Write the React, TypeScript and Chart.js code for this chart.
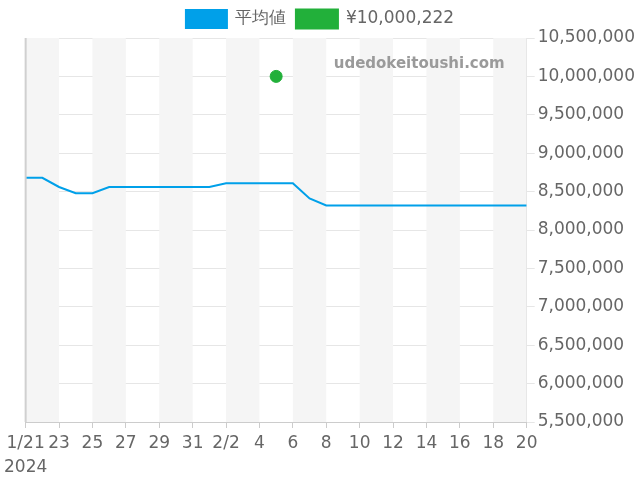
import React, { useEffect, useRef } from "react";
import { Chart, registerables } from "chart.js";

Chart.register(...registerables);

const dayLabels = ["1/21", "23", "25", "27", "29", "31", "2/2", "4", "6", "8", "10", "12", "14", "16", "18", "20"];
const yearLabel = "2024";
const averageValues = [
  8680000, 8680000, 8560000, 8480000, 8480000, 8560000, 8560000, 8560000, 8560000, 8560000, 8560000,
  8560000, 8610000, 8610000, 8610000, 8610000, 8610000, 8410000, 8320000, 8320000, 8320000, 8320000,
  8320000, 8320000, 8320000, 8320000, 8320000, 8320000, 8320000, 8320000, 8320000,
];
const saleDayIndex = 15;
const saleValue = 10000222;
const seriesNames = ["平均値", "¥10,000,222"];
const watermark = "udedokeitoushi.com";

const bandPlugin = {
  id: "bands",
  beforeDatasetsDraw(chart: any) {
    const { ctx, chartArea, scales } = chart;
    const x = scales.x;
    ctx.save();
    ctx.fillStyle = "#f5f5f5";
    for (let d = 0; d < 30; d += 4) {
      const x0 = x.getPixelForValue(d);
      const x1 = x.getPixelForValue(Math.min(d + 2, 30));
      ctx.fillRect(x0, chartArea.top, x1 - x0, chartArea.bottom - chartArea.top);
    }
    ctx.restore();
  },
  afterDatasetsDraw(chart: any) {
    const { ctx, chartArea } = chart;
    ctx.save();
    ctx.strokeStyle = "#d0d0d0";
    ctx.lineWidth = 2;
    ctx.beginPath();
    ctx.moveTo(chartArea.left, chartArea.top);
    ctx.lineTo(chartArea.left, chartArea.bottom);
    ctx.stroke();
    ctx.font = "bold 15px 'DejaVu Sans'";
    ctx.fillStyle = "#9a9a9a";
    ctx.textAlign = "right";
    ctx.textBaseline = "middle";
    ctx.fillText(watermark, chartArea.right - 22, chartArea.top + 26);
    ctx.restore();
  },
};

export default function App() {
  const ref = useRef<HTMLCanvasElement>(null);
  useEffect(() => {
    if (!ref.current) return;
    const avgPoints = averageValues.map((v, i) => ({ x: i, y: v }));
    const chart = new Chart(ref.current, {
      type: "line",
      data: {
        datasets: [
          {
            label: seriesNames[0],
            data: avgPoints,
            borderColor: "#00a0e9",
            backgroundColor: "#00a0e9",
            borderWidth: 2,
            pointRadius: 0,
            tension: 0,
          },
          {
            label: seriesNames[1],
            data: [{ x: saleDayIndex, y: saleValue }],
            borderColor: "#22b03a",
            backgroundColor: "#22b03a",
            showLine: false,
            pointRadius: 6,
            pointHoverRadius: 6,
          },
        ],
      },
      options: {
        animation: false,
        responsive: false,
        layout: { padding: { left: 2, right: 2, top: 0, bottom: 0 } },
        plugins: {
          legend: {
            labels: { boxWidth: 41, boxHeight: 18, font: { size: 17, family: "'DejaVu Sans'" }, color: "#666" },
          },
          tooltip: { enabled: false },
        },
        scales: {
          x: {
            type: "linear",
            min: 0,
            max: 30,
            afterFit: (scale: any) => {
              scale.height = 58;
            },
            grid: { drawOnChartArea: false, color: "#ccc", tickLength: 6 },
            border: { color: "#ccc" },
            ticks: {
              stepSize: 2,
              autoSkip: false,
              maxRotation: 0,
              color: "#666",
              font: { size: 17, family: "'DejaVu Sans'", lineHeight: 1.4 },
              padding: 4,
              callback: (v: any) => {
                const i = Math.round(Number(v) / 2);
                return i === 0 ? [dayLabels[0], yearLabel] : dayLabels[i];
              },
            },
          },
          y: {
            position: "right",
            min: 5500000,
            max: 10500000,
            grid: { color: "#e6e6e6", tickLength: 8 },
            border: { color: "#ccc" },
            ticks: {
              stepSize: 500000,
              color: "#666",
              font: { size: 17, family: "'DejaVu Sans'" },
              padding: 3,
              callback: (v: any) => Number(v).toLocaleString("en-US"),
            },
          },
        },
      },
      plugins: [bandPlugin],
    });
    return () => chart.destroy();
  }, []);
  return (
    <div style={{ position: "fixed", left: 0, top: 0, width: 640, height: 480, background: "#fff" }}>
      <canvas ref={ref} width={640} height={480} />
    </div>
  );
}
